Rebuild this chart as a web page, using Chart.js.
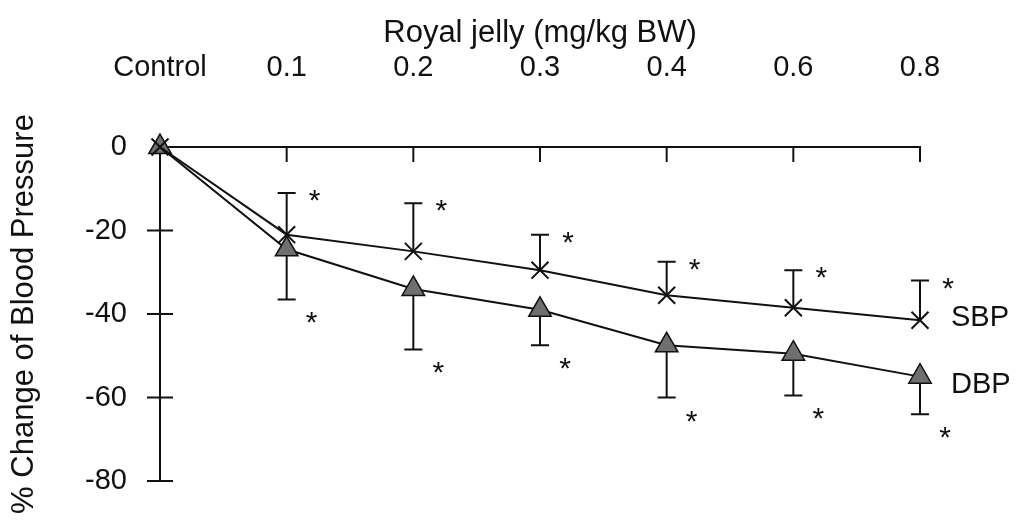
<!DOCTYPE html>
<html lang="en">
<head>
    <meta charset="UTF-8">
    <title>Royal jelly and blood pressure</title>
    <style>
        body { margin: 0; background: #fff; }
        canvas { display: block; }
    </style>
    <script src="https://cdn.jsdelivr.net/npm/chart.js"></script>
</head>
<body>
    <canvas id="bpChart" width="1017" height="523"></canvas>
    <script>
        // doses on the top axis
        const doses = ['Control', '0.1', '0.2', '0.3', '0.4', '0.6', '0.8'];
        const yTicks = [0, -20, -40, -60, -80];

        // % change
        const sbp = [0, -21, -25, -29.5, -35.5, -38.5, -41.5];
        const dbp = [0, -24.5, -34, -39, -47.5, -49.5, -55];
        // error bars (SBP drawn upward, DBP downward)
        const sbpErr = [0, 10, 11.5, 8.5, 8, 9, 9.5];
        const dbpErr = [0, 12, 14.5, 8.5, 12.5, 10, 9];
        // significance marks
        const sbpSig = [false, true, true, true, true, true, true];
        const dbpSig = [false, true, true, true, true, true, true];
        const seriesNames = ['SBP', 'DBP'];

        const FONT = '"Liberation Sans", Arial, sans-serif';
        const INK = '#111';

        const errInfo = [
            { err: sbpErr, sig: sbpSig, dir: 1 },
            { err: dbpErr, sig: dbpSig, dir: -1 }
        ];

        const marks = {
            id: 'marks',
            beforeDatasetsDraw(chart) {
                const ctx = chart.ctx;
                const y = chart.scales.y;
                ctx.save();
                ctx.strokeStyle = INK;
                ctx.lineWidth = 2;
                errInfo.forEach((info, i) => {
                    const meta = chart.getDatasetMeta(i);
                    const vals = chart.data.datasets[i].data;
                    meta.data.forEach((pt, j) => {
                        if (!info.err[j]) return;
                        const y1 = y.getPixelForValue(vals[j] + info.dir * info.err[j]);
                        ctx.beginPath();
                        ctx.moveTo(pt.x, pt.y);
                        ctx.lineTo(pt.x, y1);
                        ctx.moveTo(pt.x - 9, y1);
                        ctx.lineTo(pt.x + 9, y1);
                        ctx.stroke();
                    });
                });
                ctx.restore();
            },
            afterDatasetsDraw(chart) {
                const ctx = chart.ctx;
                const area = chart.chartArea;
                const x = chart.scales.x;
                const y = chart.scales.y;
                ctx.save();
                ctx.strokeStyle = INK;
                ctx.lineWidth = 2;
                // tick marks crossing the y axis
                y.ticks.forEach(t => {
                    if (t.value === 0) return;
                    const py = y.getPixelForValue(t.value);
                    ctx.beginPath();
                    ctx.moveTo(area.left - 13, py);
                    ctx.lineTo(area.left + 13, py);
                    ctx.stroke();
                });
                // ticks hanging from the top axis
                for (let j = 1; j < doses.length; j++) {
                    const px = x.getPixelForValue(j);
                    ctx.beginPath();
                    ctx.moveTo(px, area.top);
                    ctx.lineTo(px, area.top + 15);
                    ctx.stroke();
                }
                // asterisks
                ctx.fillStyle = INK;
                ctx.font = '30px ' + FONT;
                ctx.textAlign = 'center';
                ctx.textBaseline = 'alphabetic';
                errInfo.forEach((info, i) => {
                    const meta = chart.getDatasetMeta(i);
                    const vals = chart.data.datasets[i].data;
                    meta.data.forEach((pt, j) => {
                        if (!info.sig[j]) return;
                        const yEnd = y.getPixelForValue(vals[j] + info.dir * info.err[j]);
                        const cy = info.dir > 0 ? yEnd : yEnd + 16;
                        ctx.fillText('*', pt.x + (info.dir > 0 ? 28 : 25), cy + 17);
                    });
                });
                // series names at the line ends
                ctx.font = '29px ' + FONT;
                ctx.textAlign = 'left';
                ctx.textBaseline = 'middle';
                seriesNames.forEach((name, i) => {
                    const meta = chart.getDatasetMeta(i);
                    const last = meta.data[meta.data.length - 1];
                    ctx.fillText(name, last.x + 31, last.y + (i === 0 ? -2 : 8));
                });
                ctx.restore();
            }
        };

        new Chart(document.getElementById('bpChart'), {
            type: 'line',
            data: {
                labels: doses,
                datasets: [
                    {
                        label: seriesNames[0],
                        data: sbp,
                        borderColor: INK,
                        borderWidth: 2,
                        pointStyle: 'crossRot',
                        pointRadius: 12,
                        pointBorderWidth: 2,
                        pointBorderColor: INK,
                        fill: false
                    },
                    {
                        label: seriesNames[1],
                        data: dbp,
                        borderColor: INK,
                        borderWidth: 2,
                        pointStyle: 'triangle',
                        pointRadius: 13,
                        pointBackgroundColor: '#6f6f6f',
                        pointBorderColor: INK,
                        pointBorderWidth: 1.5,
                        fill: false
                    }
                ]
            },
            options: {
                responsive: false,
                animation: false,
                clip: false,
                layout: { padding: { top: 0, left: 6, right: 97, bottom: 42 } },
                plugins: {
                    legend: { display: false },
                    tooltip: { enabled: false }
                },
                scales: {
                    x: {
                        position: 'top',
                        offset: false,
                        afterFit: s => { s.height = 147; },
                        grid: { display: false, drawTicks: false },
                        border: { display: true, color: INK, width: 2 },
                        ticks: {
                            color: INK,
                            padding: 62,
                            maxRotation: 0,
                            autoSkip: false,
                            font: { family: FONT, size: 29 }
                        },
                        title: {
                            display: true,
                            text: 'Royal jelly (mg/kg BW)',
                            color: INK,
                            padding: { top: 15, bottom: 0 },
                            font: { family: FONT, size: 31 }
                        }
                    },
                    y: {
                        min: -80,
                        max: 0,
                        afterFit: s => {
                            s.width = 154;
                            s.paddingTop = 0;
                            s.paddingBottom = 0;
                        },
                        afterBuildTicks: s => { s.ticks = yTicks.map(v => ({ value: v })); },
                        grid: { display: false, drawTicks: false },
                        border: { display: true, color: INK, width: 2 },
                        ticks: {
                            color: INK,
                            padding: 33,
                            font: { family: FONT, size: 29 }
                        },
                        title: {
                            display: true,
                            text: '% Change of Blood Pressure',
                            color: INK,
                            padding: { top: 0, bottom: 0 },
                            font: { family: FONT, size: 31 }
                        }
                    }
                }
            },
            plugins: [marks]
        });
    </script>
</body>
</html>
